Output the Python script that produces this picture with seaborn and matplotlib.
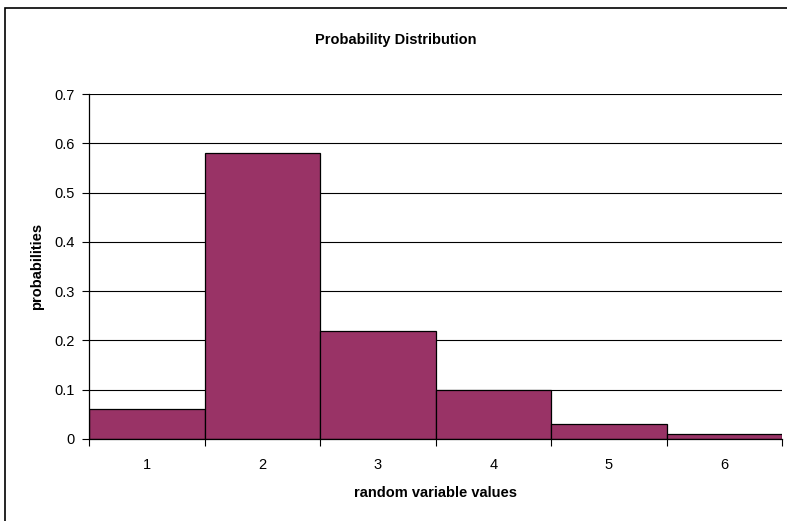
import matplotlib
matplotlib.use("Agg")
import matplotlib.pyplot as plt
import seaborn as sns
import pandas as pd
from matplotlib.patches import Rectangle

values = ["1", "2", "3", "4", "5", "6"]
probabilities = [0.06, 0.58, 0.22, 0.10, 0.03, 0.01]
y_ticks = [0, 0.1, 0.2, 0.3, 0.4, 0.5, 0.6, 0.7]
y_tick_labels = ["0", "0.1", "0.2", "0.3", "0.4", "0.5", "0.6", "0.7"]

sns.set_style("white")
plt.rcParams["font.family"] = ["Liberation Sans", "DejaVu Sans"]
plt.rcParams["text.color"] = "black"
plt.rcParams["axes.labelcolor"] = "black"
plt.rcParams["xtick.color"] = "black"
plt.rcParams["ytick.color"] = "black"

df = pd.DataFrame({"value": values, "probability": probabilities})

W, H = 787, 521
fig = plt.figure(figsize=(W / 100, H / 100), dpi=100)
ax = fig.add_axes([89 / W, 1 - 439 / H, (782 - 89) / W, (439 - 94) / H])

# outer chart frame
fig.patches.append(Rectangle((5 / W, -0.05), 1.1, 1 - 8 / H + 0.05,
                             transform=fig.transFigure, fill=False,
                             edgecolor="black", linewidth=1.2))

ax.set_axisbelow(True)
ax.yaxis.grid(True, color="black", linewidth=0.8)
sns.barplot(data=df, x="value", y="probability", color="#993366",
            saturation=1, width=1.0, edgecolor="black", linewidth=0.9, ax=ax)

ax.set_xlim(-0.5, 5.5)
ax.set_ylim(0, 0.7)
ax.set_yticks(y_ticks)
ax.set_yticklabels(y_tick_labels, fontsize=10.5)
ax.set_xticks(range(len(values)))
ax.set_xticklabels(values, fontsize=10.5)
ax.tick_params(axis="x", length=0, pad=14)
ax.tick_params(axis="y", length=5, width=0.8, pad=5, left=True)

# category boundary ticks below the axis
ax.set_xticks([i - 0.5 for i in range(len(values) + 1)], minor=True)
ax.tick_params(axis="x", which="minor", length=5, width=0.8, bottom=True)

for s in ["top", "right"]:
    ax.spines[s].set_visible(False)
for s in ["left", "bottom"]:
    ax.spines[s].set_color("black")
    ax.spines[s].set_linewidth(0.9)

ax.set_xlabel("random variable values", fontsize=10.5, fontweight="bold", labelpad=10)
ax.set_ylabel("probabilities", fontsize=10.5, fontweight="bold", labelpad=8)
fig.text(396 / W, 1 - 40 / H, "Probability Distribution", ha="center", va="center",
         fontsize=10.5, fontweight="bold")

fig.savefig("out.png", dpi=100)
